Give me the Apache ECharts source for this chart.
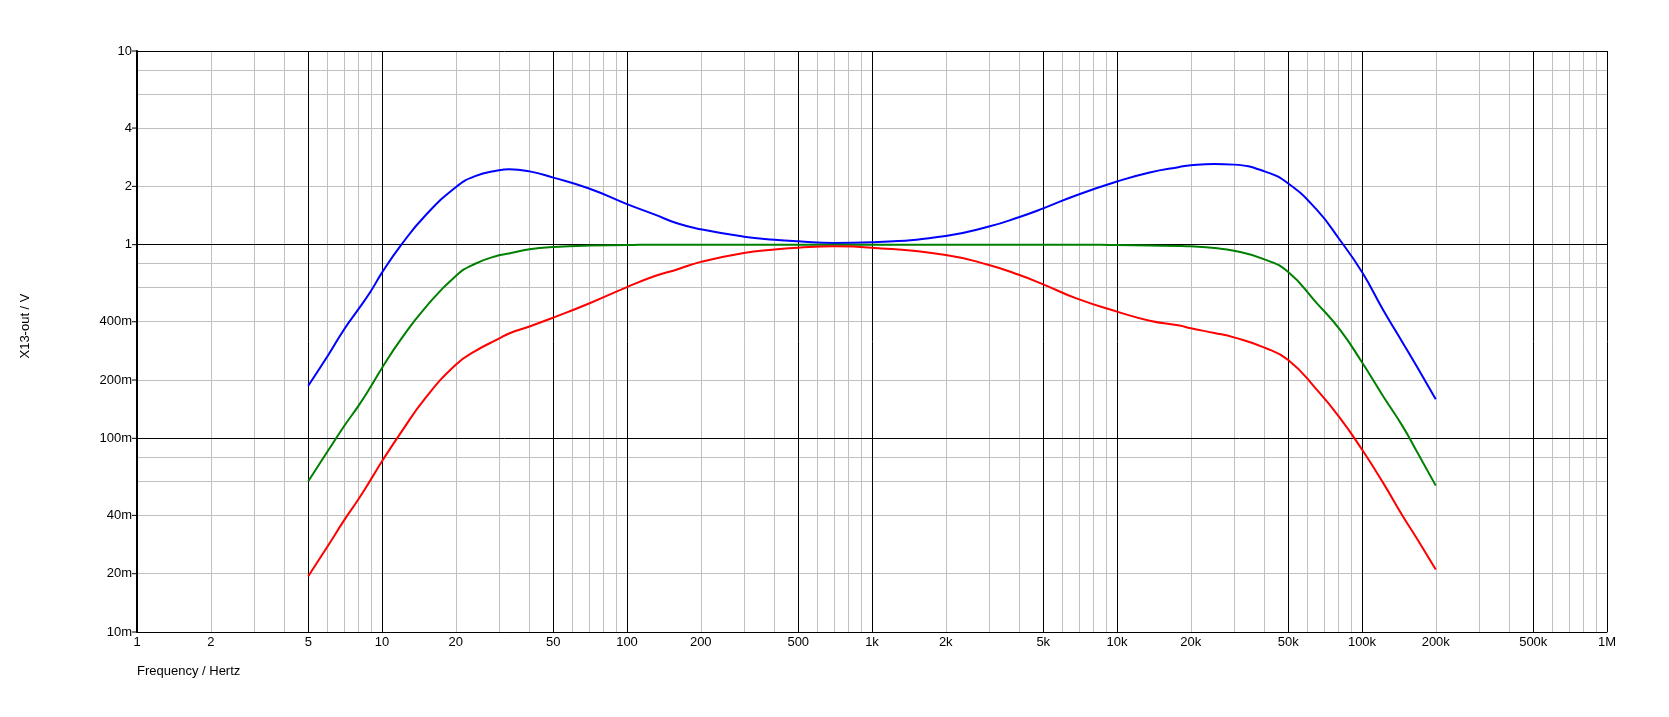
<!DOCTYPE html>
<html>
<head>
<meta charset="utf-8">
<script src="https://cdn.jsdelivr.net/npm/echarts@6/dist/echarts.min.js"></script>
<style>
html,body{margin:0;padding:0;background:#fff;}
#chart{width:1669px;height:717px;}
</style>
</head>
<body>
<div id="chart"></div>
<script>
// ---- data ----
const freqs = [5,6,7,8,9,10,12,15,20,24,30,33,40,50,70,100,130,160,200,300,400,500,700,1000,2000,3000,4000,5000,6830,10000,13600,18000,20000,25000,30000,40000,50000,65200,81100,100000,122000,147000,167000,200000];
const blueVals = [0.187,0.266,0.365,0.463,0.575,0.717,1.0,1.41,1.98,2.26,2.42,2.45,2.39,2.22,1.95,1.62,1.43,1.29,1.20,1.10,1.06,1.04,1.02,1.03,1.11,1.24,1.39,1.54,1.80,2.12,2.36,2.52,2.57,2.61,2.59,2.39,2.07,1.52,1.06,0.722,0.46,0.31,0.236,0.159];
const greenVals = [0.060,0.0857,0.1155,0.1466,0.185,0.231,0.327,0.472,0.689,0.797,0.881,0.90,0.946,0.973,0.99,0.995,1.0,1.0,1.0,1.0,1.0,1.0,1.0,1.0,1.0,1.0,1.0,1.0,1.0,0.995,0.99,0.985,0.98,0.96,0.93,0.84,0.722,0.501,0.365,0.247,0.165,0.1146,0.086,0.057];
const redVals = [0.0194,0.0277,0.0377,0.0483,0.0612,0.0762,0.108,0.161,0.240,0.282,0.327,0.348,0.378,0.420,0.497,0.604,0.689,0.745,0.815,0.906,0.943,0.965,0.981,0.965,0.885,0.785,0.697,0.624,0.528,0.451,0.405,0.382,0.370,0.350,0.332,0.294,0.254,0.179,0.128,0.0875,0.0589,0.0395,0.0306,0.021];

const xLabelVals = [1,2,5,10,20,50,100,200,500,1000,2000,5000,10000,20000,50000,100000,200000,500000,1000000];
const xLabelText = ['1','2','5','10','20','50','100','200','500','1k','2k','5k','10k','20k','50k','100k','200k','500k','1M'];
const yLabelVals = [0.01,0.02,0.04,0.1,0.2,0.4,1,2,4,10];
const yLabelText = ['10m','20m','40m','100m','200m','400m','1','2','4','10'];

const xDecades = [1,10,100,1000,10000,100000];
const xMinorMult = [2,3,4,6,7,8,9];
const xMajorMult = [1,5];
const yDecades = [0.01,0.1,1];
const yMinorMult = [2,4,6,8];

// ---- grid line values ----
const xGrey = [], xBlack = [], yGrey = [], yBlack = [];
xDecades.forEach(d => {
  xMinorMult.forEach(m => xGrey.push(d*m));
  xMajorMult.forEach(m => xBlack.push(d*m));
});
xBlack.push(1000000);
yDecades.forEach(d => {
  yMinorMult.forEach(m => yGrey.push(d*m));
  yBlack.push(d);
});
yBlack.push(10);

const FONT = 'Liberation Sans, Arial, sans-serif';
const lineNone = {symbol:['none','none'], silent:true, animation:false};
const clear = 'rgba(0,0,0,0)';

function pairs(vals){ return freqs.map((f,i)=>[f, vals[i]]); }

const chart = echarts.init(document.getElementById('chart'), null, {renderer:'canvas'});
chart.setOption({
  backgroundColor:'#ffffff',
  animation:false,
  grid:{left:137, right:62, top:51, bottom:85, containLabel:false},
  xAxis:{
    type:'log', logBase:10, min:1, max:1000000,
    axisLine:{show:true, onZero:false, lineStyle:{color:'#000', width:1}},
    axisTick:{show:false}, axisLabel:{show:false}, splitLine:{show:false}, minorSplitLine:{show:false}
  },
  yAxis:{
    type:'log', logBase:10, min:0.01, max:10,
    axisLine:{show:true, onZero:false, lineStyle:{color:'#000', width:2}},
    axisTick:{show:false}, axisLabel:{show:false}, splitLine:{show:false}
  },
  graphic:[{
    type:'text', left:137, top:665,
    style:{text:'Frequency / Hertz', fill:'#000', font:'13px '+FONT}
  },{
    type:'text', x:25, y:326, rotation:Math.PI/2,
    style:{text:'X13-out / V', fill:'#000', font:'13px '+FONT, textAlign:'center', textVerticalAlign:'middle'}
  }],
  series:[
    { // grey grid
      type:'line', data:[], z:1,
      markLine:Object.assign({}, lineNone, {
        lineStyle:{color:'#c0c0c0', width:1, type:'solid'},
        label:{show:false},
        data: xGrey.map(v=>({xAxis:v})).concat(yGrey.map(v=>({yAxis:v})))
      })
    },
    { // black grid
      type:'line', data:[], z:2,
      markLine:Object.assign({}, lineNone, {
        lineStyle:{color:'#000000', width:1, type:'solid'},
        label:{show:false},
        data: xBlack.map(v=>({xAxis:v})).concat(yBlack.map(v=>({yAxis:v})))
      })
    },
    { // x labels
      type:'line', data:[], z:3,
      markLine:Object.assign({}, lineNone, {
        lineStyle:{color:clear, width:1},
        label:{show:true, position:'start', distance:4, formatter:'{b}', color:'#000', fontFamily:FONT, fontSize:13},
        data: xLabelVals.map((v,i)=>({xAxis:v, name:xLabelText[i]}))
      })
    },
    { // y labels
      type:'line', data:[], z:3,
      markLine:Object.assign({}, lineNone, {
        lineStyle:{color:clear, width:1},
        label:{show:true, position:'start', distance:5, formatter:'{b}', color:'#000', fontFamily:FONT, fontSize:13},
        data: yLabelVals.map((v,i)=>({yAxis:v, name:yLabelText[i]}))
      })
    },
    { // y ticks
      type:'custom', z:4, clip:false, silent:true,
      data: yLabelVals.map(v=>[1,v]),
      encode:{x:0, y:1},
      renderItem:function(params, api){
        const p = api.coord([api.value(0), api.value(1)]);
        return {type:'line', shape:{x1:p[0]-5, y1:p[1], x2:p[0], y2:p[1]}, style:{stroke:'#000', lineWidth:1}};
      }
    },
    {name:'blue', type:'line', data:pairs(blueVals), z:10, showSymbol:false, smooth:0.5, lineStyle:{color:'#0000ff', width:2}, itemStyle:{color:'#0000ff'}},
    {name:'green', type:'line', data:pairs(greenVals), z:10, showSymbol:false, smooth:0.5, lineStyle:{color:'#008000', width:2}, itemStyle:{color:'#008000'}},
    {name:'red', type:'line', data:pairs(redVals), z:10, showSymbol:false, smooth:0.5, lineStyle:{color:'#ff0000', width:2}, itemStyle:{color:'#ff0000'}}
  ]
});
</script>
</body>
</html>
